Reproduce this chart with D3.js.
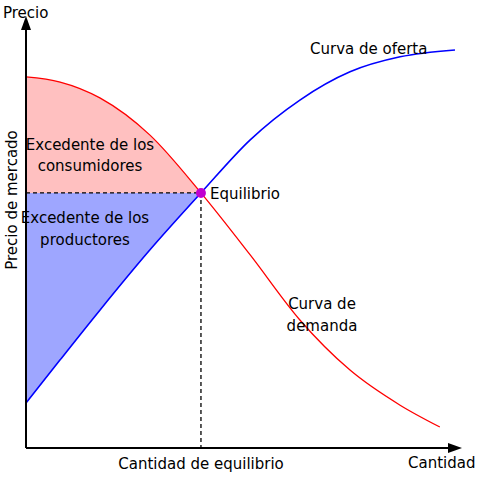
<!DOCTYPE html>
<html><head><meta charset="utf-8">
<script src="https://cdn.jsdelivr.net/npm/d3@7"></script>
<style>body{margin:0;background:#fff}text{font-family:"DejaVu Sans",sans-serif;font-size:15px}</style>
</head><body>
<svg width="480" height="480"></svg>
<script>
// **** Data (quantity, price on a 0-100 scale) ****
var supplyQ = [0, 7.9, 17.1, 28.7, 40.5, 51.9, 63.4, 75, 86.6, 99.3];
var supplyP = [10.5, 20.6, 32.2, 46.3, 59.6, 72, 81.3, 87.9, 91.4, 93];
var demandQ = [0, 7.9, 17.1, 28.7, 40.5, 51.9, 63.4, 75, 86.6, 95.8];
var demandP = [86.7, 85.5, 81.8, 73.1, 59.6, 45.1, 29.9, 18.2, 10, 4.9];
var eqQ = 40.5, eqP = 59.6;

var x = d3.scaleLinear().domain([0, 100]).range([26, 458]);
var y = d3.scaleLinear().domain([0, 100]).range([448, 20]);
var svg = d3.select('svg');

var supply = supplyQ.map(function(q, i) { return [q, supplyP[i]]; });
var demand = demandQ.map(function(q, i) { return [q, demandP[i]]; });

var line = d3.line().x(function(d) { return x(d[0]); }).y(function(d) { return y(d[1]); })
    .curve(d3.curveMonotoneX);

// Surplus areas
var demandLeft = demand.filter(function(d) { return d[0] <= eqQ; });
var supplyLeft = supply.filter(function(d) { return d[0] <= eqQ; });
svg.append('path')
    .attr('d', line(demandLeft) + 'L' + x(0) + ',' + y(eqP) + 'Z')
    .attr('fill', '#ffc0c0');
svg.append('path')
    .attr('d', line(supplyLeft) + 'L' + x(0) + ',' + y(eqP) + 'Z')
    .attr('fill', '#9ea6ff');

// Dashed guides
svg.append('path')
    .attr('d', 'M' + x(0) + ',' + y(eqP) + 'H' + x(eqQ) + 'V' + y(0))
    .attr('fill', 'none').attr('stroke', '#000').attr('stroke-width', 1.3)
    .attr('stroke-dasharray', '4,3');

// Curves
svg.append('path').attr('d', line(supply)).attr('fill', 'none').attr('stroke', '#0000ff').attr('stroke-width', 1.6);
svg.append('path').attr('d', line(demand)).attr('fill', 'none').attr('stroke', '#ff0000').attr('stroke-width', 1.3);

// Axes with arrows
svg.append('path').attr('d', 'M26,448V24M26,448H454').attr('stroke', '#000').attr('stroke-width', 2).attr('fill', 'none');
svg.append('path').attr('d', 'M26,16L21,30L31,30Z');
svg.append('path').attr('d', 'M462,448L448,443L448,453Z');

// Equilibrium point
svg.append('circle').attr('cx', x(eqQ)).attr('cy', y(eqP)).attr('r', 5).attr('fill', '#c000d0');

// Labels
function label(t, px, py, anchor) {
    svg.append('text').attr('x', px).attr('y', py).attr('text-anchor', anchor || 'start').text(t);
}
label('Precio', 3, 18);
label('Cantidad', 408, 468);
label('Cantidad de equilibrio', 201, 469, 'middle');
label('Curva de oferta', 310, 54);
label('Equilibrio', 210, 199);
label('Excedente de los', 90, 150, 'middle');
label('consumidores', 90, 171, 'middle');
label('Excedente de los', 85, 223, 'middle');
label('productores', 85, 245, 'middle');
label('Curva de', 322, 309, 'middle');
label('demanda', 322, 331, 'middle');
svg.append('text').attr('transform', 'translate(17,200) rotate(-90)')
    .attr('text-anchor', 'middle').text('Precio de mercado');
</script>
</body></html>
